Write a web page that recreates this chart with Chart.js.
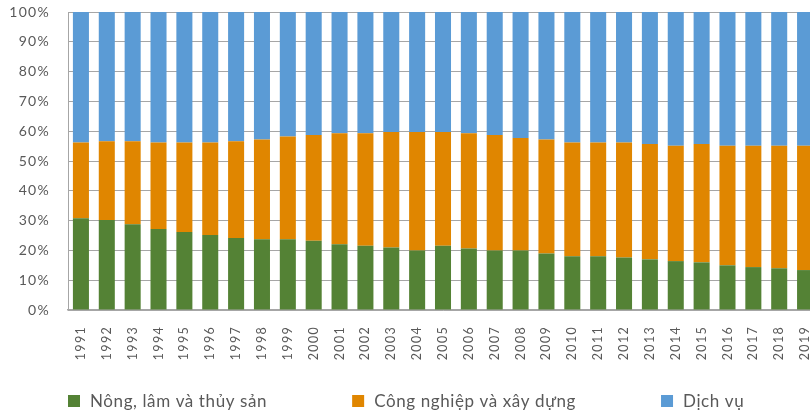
<!DOCTYPE html>
<html>
<head>
<meta charset="utf-8">
<script src="https://cdn.jsdelivr.net/npm/chart.js@4.4.1/dist/chart.umd.min.js"></script>
<style>
  html, body { margin: 0; padding: 0; overflow: hidden; background: #fff; width: 810px; height: 413px; }
  canvas { display: block; }
</style>
</head>
<body>
<canvas id="c" width="830" height="413"></canvas>
<script>
// Cơ cấu GDP theo khu vực kinh tế (%), 1991–2019
const years = ['1991','1992','1993','1994','1995','1996','1997','1998','1999','2000',
  '2001','2002','2003','2004','2005','2006','2007','2008','2009','2010',
  '2011','2012','2013','2014','2015','2016','2017','2018','2019'];

const agriculture = [30.8,30.2,28.8,27.2,26.2,25.2,24.2,23.7,23.7,23.2,
  22.1,21.6,21.0,20.0,21.6,20.6,20.0,20.0,19.0,18.0,
  18.0,17.6,17.0,16.4,16.0,15.0,14.4,14.0,13.4];

const industry = [25.4,26.4,27.8,29.0,30.0,31.0,32.4,33.5,34.5,35.5,
  37.2,37.7,38.7,39.7,38.1,38.7,38.7,37.7,38.2,38.2,
  38.2,38.6,38.7,38.7,39.7,40.1,40.7,41.1,41.7];

const services = [43.8,43.4,43.4,43.8,43.8,43.8,43.4,42.8,41.8,41.3,
  40.7,40.7,40.3,40.3,40.3,40.7,41.3,42.3,42.8,43.8,
  43.8,43.8,44.3,44.9,44.3,44.9,44.9,44.9,44.9];

const seriesNames = ['Nông, lâm và thủy sản', 'Công nghiệp và xây dựng', 'Dịch vụ'];
const yTicks = [0,10,20,30,40,50,60,70,80,90,100];

const COLORS = ['#548235', '#E08600', '#5B9BD5'];
const TEXT = '#595959';
const GRID = '#A6A6A6';
const FONT = 'Lato';

// Slight tracking on the axis labels
const tracking = {
  id: 'tracking',
  beforeUpdate(chart) { chart.ctx.letterSpacing = '1.3px'; },
  beforeDraw(chart) { chart.ctx.letterSpacing = '1.3px'; }
};

// Key row under the axis labels
const bottomKey = {
  id: 'bottomKey',
  afterDraw(chart) {
    const ctx = chart.ctx;
    ctx.save();
    ctx.font = '17px ' + FONT;
    ctx.letterSpacing = '0.6px';
    ctx.textBaseline = 'middle';
    ctx.textAlign = 'left';
    const box = 12, gapText = 10, gapItem = 85, cy = 401;
    let x = chart.chartArea.left;
    chart.data.datasets.forEach(d => {
      const w = ctx.measureText(d.label).width;
      ctx.fillStyle = d.backgroundColor;
      ctx.fillRect(x, cy - box / 2, box, box);
      ctx.fillStyle = TEXT;
      ctx.fillText(d.label, x + box + gapText, cy + 1);
      x += box + gapText + w + gapItem;
    });
    ctx.restore();
  }
};

const mk = (label, data, color) => ({
  label, data,
  backgroundColor: color,
  borderWidth: 0,
  barPercentage: 0.62,
  categoryPercentage: 1.0
});

new Chart(document.getElementById('c'), {
  type: 'bar',
  data: {
    labels: years,
    datasets: [
      mk(seriesNames[0], agriculture, COLORS[0]),
      mk(seriesNames[1], industry, COLORS[1]),
      mk(seriesNames[2], services, COLORS[2])
    ]
  },
  options: {
    responsive: false,
    animation: false,
    layout: { padding: { top: 0, right: 12, left: 0, bottom: 0 } },
    plugins: {
      legend: { display: false },
      tooltip: { enabled: false }
    },
    scales: {
      x: {
        stacked: true,
        grid: { display: false, drawTicks: false },
        border: { display: true, color: GRID, width: 1.5 },
        ticks: {
          autoSkip: false,
          minRotation: 90,
          maxRotation: 90,
          padding: 16,
          color: TEXT,
          font: { family: FONT, size: 12.5 }
        },
        afterFit(s) { s.height = 103; s.paddingLeft = 0; s.paddingRight = 0; }
      },
      y: {
        stacked: true,
        min: 0,
        max: 100,
        afterBuildTicks(s) { s.ticks = yTicks.map(v => ({ value: v })); },
        grid: { color: GRID, lineWidth: 1, drawTicks: false },
        border: { display: true, color: GRID, width: 1 },
        ticks: {
          padding: 18,
          color: TEXT,
          font: { family: FONT, size: 14 },
          callback: v => v + '%'
        },
        afterFit(s) { s.width = 68; s.paddingTop = 12; }
      }
    }
  },
  plugins: [tracking, bottomKey]
});
</script>
</body>
</html>
